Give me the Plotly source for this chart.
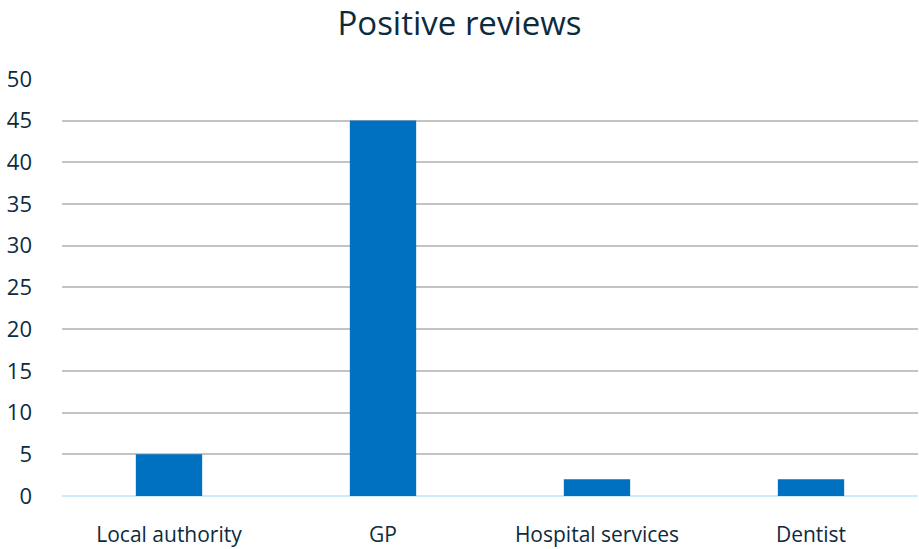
import plotly.graph_objects as go

categories = ["Local authority", "GP", "Hospital services", "Dentist"]
values = [5, 45, 2, 2]
y_ticks = [0, 5, 10, 15, 20, 25, 30, 35, 40, 45, 50]

text_color = "#0D2B3E"

fig = go.Figure(go.Bar(
    x=categories, y=values,
    marker=dict(color="#0070C0", line=dict(width=0)),
    width=0.31,
))

fig.update_layout(
    width=919, height=549,
    margin=dict(l=62, r=1, t=78, b=53, autoexpand=False),
    paper_bgcolor="white", plot_bgcolor="white",
    font=dict(family="Open Sans, sans-serif", color=text_color),
    title=dict(text="Positive reviews", x=0.5, xanchor="center", y=0.957, yanchor="middle",
               font=dict(size=33, color=text_color)),
    showlegend=False,
    bargap=0.69,
)
fig.update_yaxes(
    range=[0, 50.1], tickvals=y_ticks, ticktext=[str(v) for v in y_ticks],
    showgrid=True, gridcolor="#C3C3C3", gridwidth=2,
    zeroline=True, zerolinecolor="#CDEBFA", zerolinewidth=2,
    showline=False, ticks="", ticklabelstandoff=29, automargin=False,
    tickfont=dict(size=22, color=text_color),
)
fig.update_xaxes(
    showline=False, ticks="", showgrid=False, ticklabelstandoff=24, automargin=False,
    tickfont=dict(size=21, color=text_color),
)

fig.write_html(
    "out.html",
    config={"displayModeBar": False},
    post_script="document.body.style.margin='0';document.body.style.overflow='hidden';",
)
